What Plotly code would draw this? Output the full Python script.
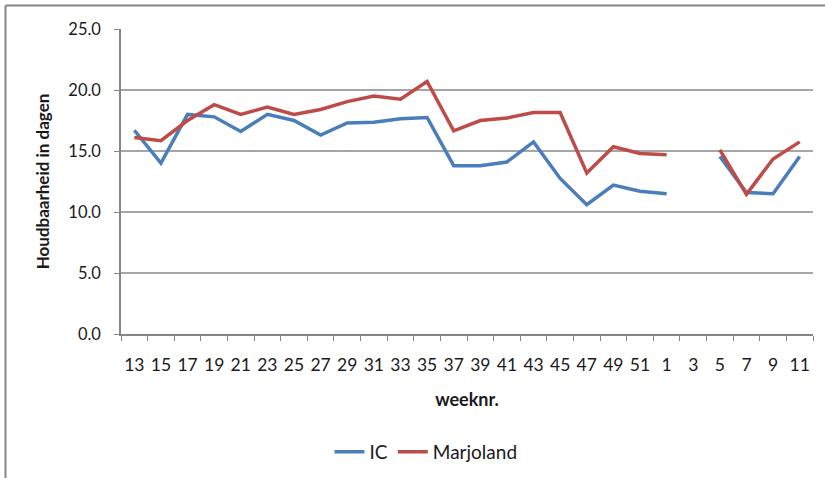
import plotly.graph_objects as go

weeks = ["13", "15", "17", "19", "21", "23", "25", "27", "29", "31", "33", "35", "37", "39",
         "41", "43", "45", "47", "49", "51", "1", "3", "5", "7", "9", "11"]
ic = [16.7, 14.0, 18.0, 17.8, 16.6, 18.0, 17.5, 16.3, 17.3, 17.35, 17.65, 17.75, 13.8, 13.8,
      14.1, 15.75, 12.75, 10.6, 12.2, 11.7, 11.5, None, 14.55, 11.6, 11.5, 14.55]
marjoland = [16.1, 15.85, 17.5, 18.8, 18.0, 18.6, 18.0, 18.4, 19.05, 19.5, 19.25, 20.7, 16.65, 17.5,
             17.7, 18.15, 18.15, 13.2, 15.35, 14.8, 14.7, None, 15.1, 11.45, 14.35, 15.75]
y_ticks = [0, 5, 10, 15, 20, 25]

W, H = 825, 478
L, R, T, B = 121, 12, 29, 144
pw, ph = W - L - R, H - T - B

fig = go.Figure()
fig.add_trace(go.Scatter(x=weeks, y=ic, name="IC", mode="lines",
                         line=dict(color="#4a7ebb", width=3.5), connectgaps=False))
fig.add_trace(go.Scatter(x=weeks, y=marjoland, name="Marjoland", mode="lines",
                         line=dict(color="#be4b48", width=3.5), connectgaps=False))

font = "Lato, Carlito, 'Liberation Sans', sans-serif"

def px_x(x):
    return (x - L) / pw

def px_y(y):
    return (H - B - y) / ph

fig.update_layout(
    width=W, height=H,
    margin=dict(l=L, r=R, t=T, b=B, autoexpand=False),
    paper_bgcolor="white", plot_bgcolor="white",
    font=dict(family=font, size=16, color="#1a1a1a"),
    showlegend=True,
    legend=dict(orientation="h", x=px_x(426), xanchor="center", y=px_y(452), yanchor="middle",
                font=dict(size=19), itemwidth=30, traceorder="normal"),
    xaxis=dict(type="category", categoryorder="array", categoryarray=weeks,
               tickson="boundaries", ticks="outside", ticklen=5, tickcolor="#868686",
               showline=True, linecolor="#868686", linewidth=1.5, showgrid=False,
               tickfont=dict(size=17.5), tickangle=0, ticklabelstandoff=14,
               range=[-0.5, len(weeks) - 0.5], automargin=False,
               title=dict(text="<b>weeknr.</b>", font=dict(size=18), standoff=20)),
    yaxis=dict(range=[0, 25], tickvals=y_ticks, tickformat=".1f", ticks="outside",
               ticklen=5, tickcolor="#868686", showline=True, linecolor="#868686",
               linewidth=1.5, showgrid=True, gridcolor="#a6a6a6", gridwidth=1.5,
               zeroline=False, tickfont=dict(size=16.5), ticklabelstandoff=10,
               automargin=False,
               title=dict(text="<b>Houdbaarheid in dagen</b>", font=dict(size=17), standoff=14)),
    shapes=[
        dict(type="line", xref="paper", yref="paper", x0=px_x(5.5), x1=px_x(826),
             y0=px_y(5.5), y1=px_y(5.5), line=dict(color="#868686", width=2)),
        dict(type="line", xref="paper", yref="paper", x0=px_x(5.5), x1=px_x(5.5),
             y0=px_y(5.5), y1=px_y(479), line=dict(color="#868686", width=2)),
    ],
)

fig.write_html("out.html", config={"displayModeBar": False},
               post_script="document.body.style.margin='0px';")
